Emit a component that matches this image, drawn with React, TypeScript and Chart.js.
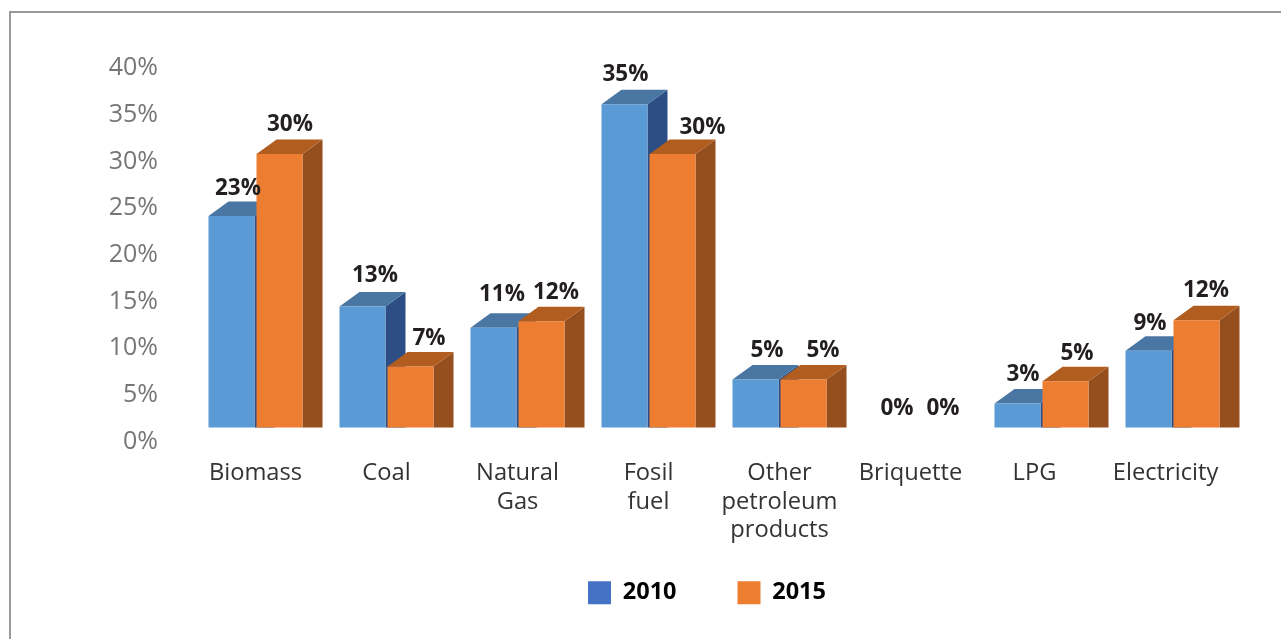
import React, { useEffect, useRef } from "react";
import { Chart, registerables } from "chart.js";

Chart.register(...registerables);

const categories = [
  "Biomass",
  "Coal",
  ["Natural", "Gas"],
  ["Fosil", "fuel"],
  ["Other", "petroleum", "products"],
  "Briquette",
  "LPG",
  "Electricity",
];
const seriesNames = ["2010", "2015"];
// Heights as drawn in the picture, in percent
const values2010 = [22.9, 13.1, 10.8, 35.0, 5.2, 0, 2.6, 8.3];
const values2015 = [29.6, 6.6, 11.5, 29.6, 5.2, 0, 5.0, 11.6];
// Printed labels
const labels2010 = ["23%", "13%", "11%", "35%", "5%", "0%", "3%", "9%"];
const labels2015 = ["30%", "7%", "12%", "30%", "5%", "0%", "5%", "12%"];
// Hand-placed label nudges
const nudgeX2010 = [6.5, 12.5, 8.5, 1, 11.5, 10.5, 5.5, 1.5];
const nudgeY2010 = [-29, -33, -35, -32, -31, -21, -31, -29];
const nudgeX2015 = [10.5, 18.5, 14.5, 30, 19.5, 8.5, 11.5, 9.5];
const nudgeY2015 = [-32, -30, -31, -29, -31, -21, -30, -32];
const tickShift = [0, 0, 0, 0, 0, 0, -7, -7];

const FONT = '"Open Sans", "Noto Sans", sans-serif';
const DEPTH_X = 20;
const DEPTH_Y = 14.5;
const faces = [
  { front: "#5b9bd5", top: "#4a76a3", side: "#2c4e84", legend: "#4472c4" },
  { front: "#ed7d31", top: "#b25d20", side: "#954f1e", legend: "#ed7d31" },
];

function drawDepth(chart: any, d: number) {
  const { ctx } = chart;
  const f = faces[d];
  const vals = chart.data.datasets[d].data;
  chart.getDatasetMeta(d).data.forEach((bar: any, i: number) => {
    if (!vals[i]) return;
    const { x, y, base, width } = bar.getProps(["x", "y", "base", "width"], true);
    const r = x + width / 2;
    const l = x - width / 2;
    ctx.save();
    ctx.fillStyle = f.side;
    ctx.beginPath();
    ctx.moveTo(r, y);
    ctx.lineTo(r + DEPTH_X, y - DEPTH_Y);
    ctx.lineTo(r + DEPTH_X, base);
    ctx.lineTo(r, base);
    ctx.closePath();
    ctx.fill();
    ctx.fillStyle = f.top;
    ctx.beginPath();
    ctx.moveTo(l, y);
    ctx.lineTo(l + DEPTH_X, y - DEPTH_Y);
    ctx.lineTo(r + DEPTH_X, y - DEPTH_Y);
    ctx.lineTo(r, y);
    ctx.closePath();
    ctx.fill();
    ctx.restore();
  });
}

const bar3d = {
  id: "bar3d",
  afterLayout(chart: any) {
    const lg = chart.legend;
    if (lg) {
      const h = lg.bottom - lg.top;
      lg.left += 88;
      lg.right += 88;
      lg.top = 520;
      lg.bottom = 520 + h;
      lg.adjustHitBoxes();
    }
  },
  beforeDraw(chart: any) {
    chart.scales.x.getLabelItems().forEach((item: any, i: number) => {
      if (!item.moved) {
        item.options.translation[0] += tickShift[i];
        item.moved = true;
      }
    });
    chart.scales.y.getLabelItems().forEach((item: any) => {
      if (!item.moved) {
        item.options.translation[1] += 2;
        item.moved = true;
      }
    });
  },
  // Series are painted left to right so each front face covers its neighbour's side
  beforeDatasetsDraw(chart: any) {
    [0, 1].forEach((d) => {
      drawDepth(chart, d);
      chart.getDatasetMeta(d).controller.draw();
    });
  },
  beforeDatasetDraw() {
    return false;
  },
  afterDatasetsDraw(chart: any) {
    const { ctx } = chart;
    const sets = [
      { text: labels2010, dx: nudgeX2010, dy: nudgeY2010 },
      { text: labels2015, dx: nudgeX2015, dy: nudgeY2015 },
    ];
    ctx.save();
    ctx.font = `bold 22.5px ${FONT}`;
    ctx.fillStyle = "#231f20";
    ctx.textAlign = "center";
    ctx.textBaseline = "middle";
    sets.forEach((s, d) => {
      chart.getDatasetMeta(d).data.forEach((bar: any, i: number) => {
        const { x, y } = bar.getProps(["x", "y"], true);
        ctx.fillText(s.text[i], x + s.dx[i], y + s.dy[i] + 2);
      });
    });
    ctx.restore();
  },
};

export default function App() {
  const ref = useRef<HTMLCanvasElement>(null);
  useEffect(() => {
    const chart = new Chart(ref.current as HTMLCanvasElement, {
      type: "bar",
      plugins: [bar3d],
      data: {
        labels: categories as any,
        datasets: [
          {
            label: seriesNames[0],
            data: values2010,
            backgroundColor: faces[0].front,
            yAxisID: "yBars",
          },
          {
            label: seriesNames[1],
            data: values2015,
            backgroundColor: faces[1].front,
            yAxisID: "yBars",
          },
        ],
      },
      options: {
        animation: false,
        responsive: false,
        maintainAspectRatio: false,
        layout: { padding: { top: 66, right: 43, left: 0, bottom: -5 } },
        datasets: { bar: { barPercentage: 0.958, categoryPercentage: 0.733 } },
        plugins: {
          tooltip: { enabled: false },
          legend: {
            position: "bottom",
            labels: {
              boxWidth: 23,
              boxHeight: 23,
              padding: 61,
              color: "#231f20",
              font: { family: FONT, size: 23.5, weight: "bold" },
              generateLabels: () =>
                seriesNames.map((name, i) => ({
                  text: name,
                  fillStyle: faces[i].legend,
                  strokeStyle: faces[i].legend,
                  lineWidth: 0,
                  datasetIndex: i,
                })),
            },
          },
        },
        scales: {
          x: {
            grid: { display: false, drawTicks: false },
            border: { display: false },
            afterFit: (s: any) => {
              s.height = 110;
            },
            ticks: {
              padding: 20,
              maxRotation: 0,
              autoSkip: false,
              color: "#333333",
              font: { family: FONT, size: 23.7, lineHeight: 1.2 },
            },
          },
          y: {
            min: 0,
            max: 40,
            grid: { display: false, drawTicks: false },
            border: { display: false },
            afterFit: (s: any) => {
              s.width = 190;
            },
            ticks: {
              stepSize: 5,
              padding: 32,
              color: "#767676",
              font: { family: FONT, size: 25 },
              callback: (v: any) => `${v}%`,
            },
          },
          yBars: {
            display: false,
            min: -1.3,
            max: 39.14,
          },
        },
      } as any,
    });
    return () => chart.destroy();
  }, []);
  return (
    <div style={{ position: "absolute", left: 0, top: 0, width: 1281, height: 639, background: "#fff", overflow: "hidden" }}>
      <div
        style={{
          position: "absolute",
          left: 9,
          top: 11,
          right: 0,
          bottom: 0,
          borderTop: "2px solid #999",
          borderLeft: "2px solid #999",
        }}
      />
      <canvas ref={ref} width={1281} height={639} style={{ position: "absolute", left: 0, top: 0, display: "block" }} />
    </div>
  );
}
